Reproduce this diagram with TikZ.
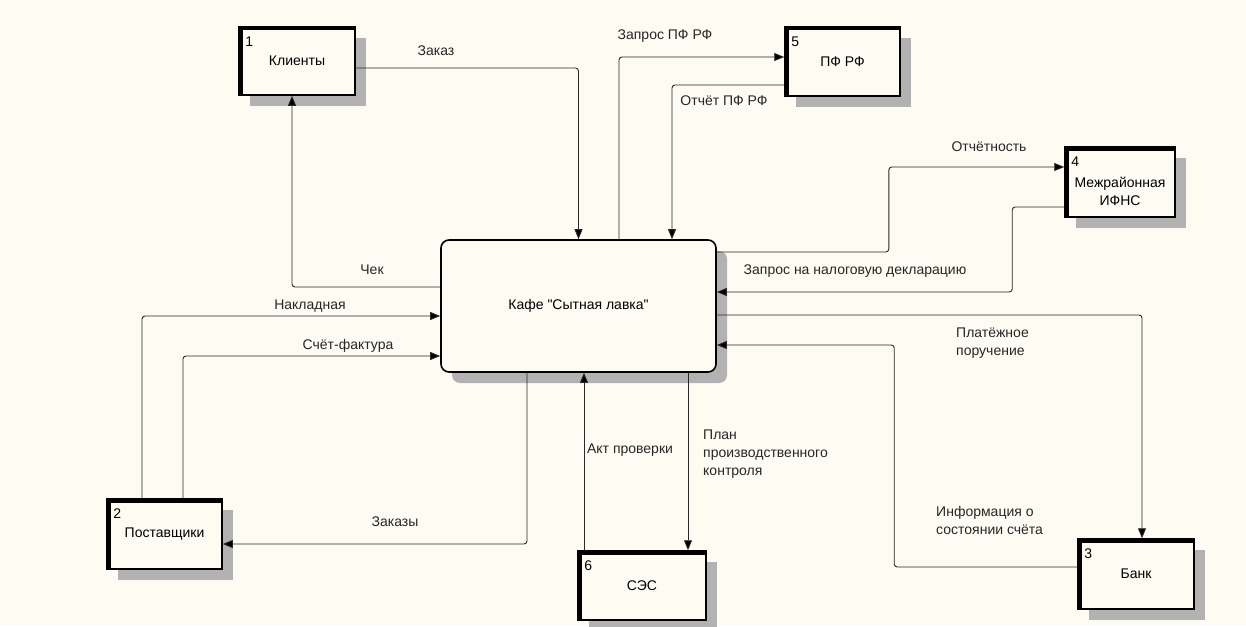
\documentclass[tikz,border=0pt]{standalone}
\usepackage{fontspec}
\setmainfont{Liberation Sans}[Ligatures=TeXOff]
\usetikzlibrary{arrows.meta,shadows}

\definecolor{bgcol}{RGB}{253,251,242}
\definecolor{linecol}{RGB}{40,40,40}

\tikzset{
  boxshadow/.style={general shadow={shadow xshift=11pt,shadow yshift=-11pt,
      fill=black!30}},
  entity/.style={rectangle,draw,line width=1.5pt,fill=bgcol,boxshadow,
      align=center,inner sep=0pt},
  num/.style={anchor=north west,inner sep=0pt,xshift=7pt,yshift=-10pt},
  thickedge/.style={line width=4.5pt,draw=black},
  flowlbl/.style={inner sep=0pt,text=black!85}
}

\begin{document}
\begin{tikzpicture}[x=1pt,y=-1pt,font=\fontsize{14pt}{18pt}\selectfont]
\fill[bgcol] (0,0) rectangle (1246,626);
\useasboundingbox (0,0) rectangle (1246,626);

% the cafe itself
\node[draw,line width=1.6pt,fill=bgcol,rounded corners=8pt,boxshadow,
      minimum width=275pt,minimum height=132pt] (kafe) at (578.5,306) {Кафе "Сытная лавка"};

% external entities
\node[entity,minimum width=116pt,minimum height=68pt,label={[num]north west:1}] (klienty) at (297,61) {Клиенты};
\node[entity,minimum width=115pt,minimum height=70pt,label={[num]north west:2}] (post) at (164.5,534) {Поставщики};
\node[entity,minimum width=116pt,minimum height=70pt,label={[num]north west:3}] (bank) at (1136,574) {Банк};
\node[entity,minimum width=110pt,minimum height=70pt,label={[num]north west:4},
      label={[inner sep=0pt,align=center,yshift=-9pt]center:Межрайонная\\ИФНС}] (ifns) at (1120,182) {};
\node[entity,minimum width=115pt,minimum height=69pt,label={[num]north west:5}] (pfrf) at (842.5,61.5) {ПФ РФ};
\node[entity,minimum width=128pt,minimum height=69pt,label={[num]north west:6}] (ses) at (642,585.5) {СЭС};

\foreach \n in {klienty,post,bank,ifns,pfrf,ses}
    \draw[thickedge] ([xshift=2pt]\n.south west) -- ([shift={(2pt,-2pt)}]\n.north west)
        -- ([yshift=-2pt]\n.north east);

% data flows
\begin{scope}[draw=linecol,line width=0.9pt,rounded corners=3pt,
              -{Triangle[length=10pt,width=8pt,fill=black]}]
    \draw ([yshift=-7pt]klienty.east) -| (kafe.north);
    \draw ([yshift=19pt]kafe.west) -| ([xshift=-5pt]klienty.south);
    \draw ([xshift=-22.5pt]post.north) |- ([yshift=-10pt]kafe.west);
    \draw ([xshift=18.5pt]post.north) |- ([yshift=-50pt]kafe.west);
    \draw ([xshift=-51.5pt]kafe.south) |- ([yshift=-10pt]post.east);
    \draw ([xshift=40.5pt]kafe.north) |- ([yshift=4.5pt]pfrf.west);
    \draw ([yshift=-23.5pt]pfrf.west) -| ([xshift=93.5pt]kafe.north);
    \draw ([yshift=54pt]kafe.east) -- ++(172,0) |- ([yshift=15pt]ifns.west);
    \draw ([yshift=-25pt]ifns.west) -- ++(-52,0) |- ([yshift=14pt]kafe.east);
    \draw ([yshift=-9pt]kafe.east) -| ([xshift=6pt]bank.north);
    \draw ([yshift=7pt]bank.west) -- ++(-183,0) |- ([yshift=-39pt]kafe.east);
    \draw ([xshift=-58pt]ses.north) -- ([xshift=5.5pt]kafe.south);
    \draw ([xshift=109.5pt]kafe.south) -- ([xshift=46pt]ses.north);
\end{scope}

% flow labels
\begin{scope}[every node/.style={flowlbl}]
    \node (l-zakaz) at (436,51) {Заказ};
    \node (l-chek) at (372,270) {Чек};
    \node (l-nakl) at (310,306) {Накладная};
    \node (l-schet) at (348,346) {Счёт-фактура};
    \node (l-zakazy) at (395,522) {Заказы};
    \node (l-zappf) at (665,36) {Запрос ПФ РФ};
    \node (l-otchpf) at (724,101) {Отчёт ПФ РФ};
    \node (l-otchet) at (989,147) {Отчётность};
    \node (l-zapnal) at (855,271) {Запрос на налоговую декларацию};
    \node[anchor=north west,align=left] (l-plat) at (956,328) {Платёжное\\поручение};
    \node[anchor=north west,align=left] (l-info) at (936,506) {Информация о\\состоянии счёта};
    \node (l-akt) at (630,450) {Акт проверки};
    \node[anchor=north west,align=left] (l-plan) at (703,430) {План\\производственного\\контроля};
\end{scope}
\end{tikzpicture}
\end{document}
